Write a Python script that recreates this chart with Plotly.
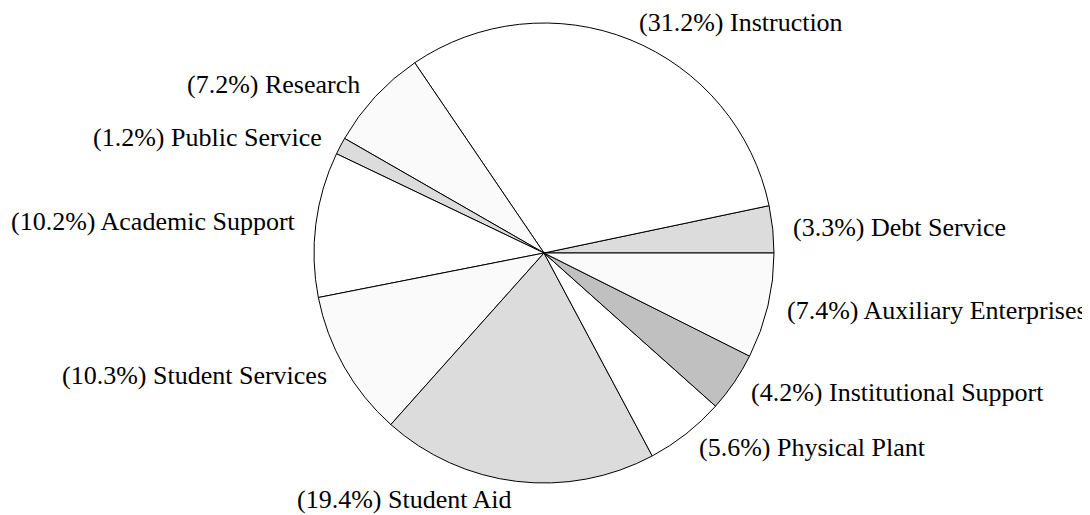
import math
import plotly.graph_objects as go

categories = ["Debt Service", "Instruction", "Research", "Public Service",
              "Academic Support", "Student Services", "Student Aid",
              "Physical Plant", "Institutional Support", "Auxiliary Enterprises"]
percents = [3.3, 31.2, 7.2, 1.2, 10.2, 10.3, 19.4, 5.6, 4.2, 7.4]
colors = ["#dcdcdc", "#ffffff", "#fafafa", "#dcdcdc", "#ffffff",
          "#fafafa", "#dcdcdc", "#ffffff", "#c0c0c0", "#fafafa"]

texts = [f"({p}%) {c}" for p, c in zip(percents, categories)]

W, H = 1090, 515
cx, cy, r = 536, 245, 230  # pie centre (px from top-left of figure) and radius
label_gap = 18             # distance of label anchor outside the rim

total = sum(percents)
# first slice starts at 3 o'clock; slices run counterclockwise
rotation = 90 - percents[0] / total * 360

fig = go.Figure(go.Pie(
    labels=categories,
    values=percents,
    textinfo="none",
    sort=False,
    direction="counterclockwise",
    rotation=rotation,
    marker=dict(colors=colors, line=dict(color="#000000", width=1)),
    hoverinfo="label+percent",
    domain=dict(x=[(cx - r) / W, (cx + r) / W],
                y=[(H - cy - r) / H, (H - cy + r) / H]),
))

# labels placed at each slice's mid-angle, derived from the data
start = 0.0
annotations = []
for p, t in zip(percents, texts):
    mid = math.radians((start + p / 2) / total * 360)
    start += p
    c, s = math.cos(mid), math.sin(mid)
    px = cx + (r + label_gap) * c
    py = cy - (r + label_gap) * s
    annotations.append(dict(
        x=px / W, y=1 - py / H, xref="paper", yref="paper",
        text=t, showarrow=False,
        xanchor="left" if c >= 0 else "right", yanchor="middle",
        font=dict(family="Liberation Serif", size=26, color="#000000"),
    ))

fig.update_layout(
    width=W, height=H,
    margin=dict(l=0, r=0, t=0, b=0),
    paper_bgcolor="#ffffff",
    plot_bgcolor="#ffffff",
    showlegend=False,
    annotations=annotations,
)

fig.write_html("out.html")
